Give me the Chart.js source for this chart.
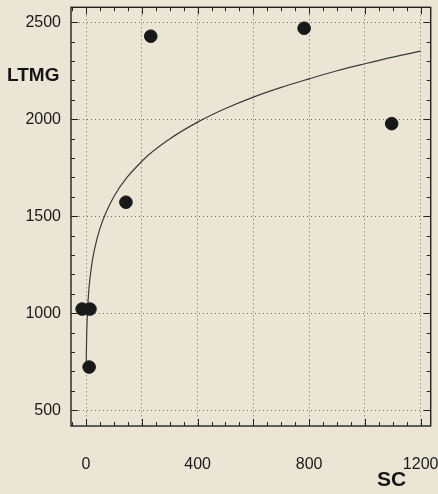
<!DOCTYPE html>
<html>
<head>
<meta charset="utf-8">
<script src="https://cdn.jsdelivr.net/npm/chart.js@4.4.1/dist/chart.umd.min.js"></script>
<style>
html, body { margin: 0; padding: 0; background: #ebe5d5; }
#wrap { position: relative; width: 438px; height: 494px; }
.lab { position: absolute; font-family: "Liberation Sans", Arial, sans-serif; font-weight: bold; color: #151515; }
</style>
</head>
<body>
<div id="wrap">
  <canvas id="grafico" width="438" height="494"></canvas>
  <div class="lab" style="left:7px; top:64px; font-size:19px;">LTMG</div>
  <div class="lab" style="left:377px; top:467px; font-size:21px;">SC</div>
</div>
<script>
// puntos medidos (SC, LTMG)
const puntosSC    = [-14, 14, 11, 143, 232, 782, 1096];
const puntosLTMG  = [1021, 1021, 722, 1572, 2428, 2469, 1977];

// curva ajustada
const curvaSC   = [0.6, 1, 2, 3, 5, 10, 20, 30, 50, 100, 200, 300, 400, 500, 600, 700, 800, 900, 1000, 1100, 1200];
const curvaLTMG = [724, 784, 873, 930, 1006, 1121, 1247, 1328, 1437, 1601, 1783, 1898, 1985, 2055, 2114, 2164, 2208, 2250, 2286, 2320, 2351];

// marcas de los ejes
const etiquetasX = [0, 400, 800, 1200];
const etiquetasY = [500, 1000, 1500, 2000, 2500];
const rejillaX = [0, 200, 400, 600, 800, 1000, 1200];

const fuente = { family: '"Liberation Sans Narrow", "Liberation Sans", Arial, sans-serif', size: 16 };

// marco con marcas hacia adentro en los cuatro lados
const marco = {
  id: 'marco',
  afterDraw(chart) {
    const { ctx, chartArea: a, scales: { x, y } } = chart;
    ctx.save();
    ctx.strokeStyle = '#222';
    ctx.lineWidth = 1.4;
    ctx.strokeRect(a.left, a.top, a.right - a.left, a.bottom - a.top);
    ctx.lineWidth = 1;
    ctx.beginPath();
    x.ticks.forEach(t => {
      const px = Math.round(x.getPixelForValue(t.value)) + 0.5;
      const largo = rejillaX.includes(t.value) ? 7 : 4;
      ctx.moveTo(px, a.bottom); ctx.lineTo(px, a.bottom - largo);
      ctx.moveTo(px, a.top); ctx.lineTo(px, a.top + largo);
    });
    y.ticks.forEach(t => {
      const py = Math.round(y.getPixelForValue(t.value)) + 0.5;
      const largo = etiquetasY.includes(t.value) ? 7 : 4;
      ctx.moveTo(a.left, py); ctx.lineTo(a.left + largo, py);
      ctx.moveTo(a.right, py); ctx.lineTo(a.right - largo, py);
    });
    ctx.stroke();
    ctx.restore();
  }
};

new Chart(document.getElementById('grafico'), {
  type: 'scatter',
  data: {
    datasets: [
      {
        label: 'ajuste',
        data: curvaSC.map((v, i) => ({ x: v, y: curvaLTMG[i] })),
        showLine: true,
        borderColor: '#3a3a3a',
        borderWidth: 1.2,
        pointRadius: 0,
        cubicInterpolationMode: 'monotone',
        order: 2
      },
      {
        label: 'datos',
        data: puntosSC.map((v, i) => ({ x: v, y: puntosLTMG[i] })),
        backgroundColor: '#181818',
        borderColor: '#181818',
        pointRadius: 6.3,
        order: 1
      }
    ]
  },
  options: {
    responsive: false,
    animation: false,
    layout: { padding: { top: 5, right: 6, left: 0, bottom: 0 } },
    plugins: { legend: { display: false }, tooltip: { enabled: false } },
    scales: {
      x: {
        type: 'linear',
        min: -54, max: 1236,
        afterFit: s => { s.height = 68; s.paddingLeft = 0; s.paddingRight = 0; },
        afterBuildTicks: s => {
          const t = [];
          for (let v = -50; v <= 1200; v += 50) t.push({ value: v });
          s.ticks = t;
        },
        ticks: {
          autoSkip: false, maxRotation: 0, padding: 29,
          color: '#1a1a1a', font: fuente,
          callback: v => etiquetasX.includes(v) ? String(v) : ''
        },
        grid: {
          drawTicks: false,
          lineWidth: 1,
          color: c => (c.tick && rejillaX.includes(c.tick.value)) ? 'rgba(60,60,60,0.7)' : 'rgba(0,0,0,0)'
        },
        border: { display: false, dash: [1, 3] }
      },
      y: {
        type: 'linear',
        min: 418, max: 2577,
        afterFit: s => { s.width = 71; s.paddingTop = 0; s.paddingBottom = 0; },
        afterBuildTicks: s => {
          const t = [];
          for (let v = 500; v <= 2500; v += 100) t.push({ value: v });
          s.ticks = t;
        },
        ticks: {
          autoSkip: false, padding: 10,
          color: '#1a1a1a', font: fuente,
          callback: v => etiquetasY.includes(v) ? String(v) : ''
        },
        grid: {
          drawTicks: false,
          lineWidth: 1,
          color: c => (c.tick && etiquetasY.includes(c.tick.value)) ? 'rgba(60,60,60,0.7)' : 'rgba(0,0,0,0)'
        },
        border: { display: false, dash: [1, 3] }
      }
    }
  },
  plugins: [marco]
});
</script>
</body>
</html>
